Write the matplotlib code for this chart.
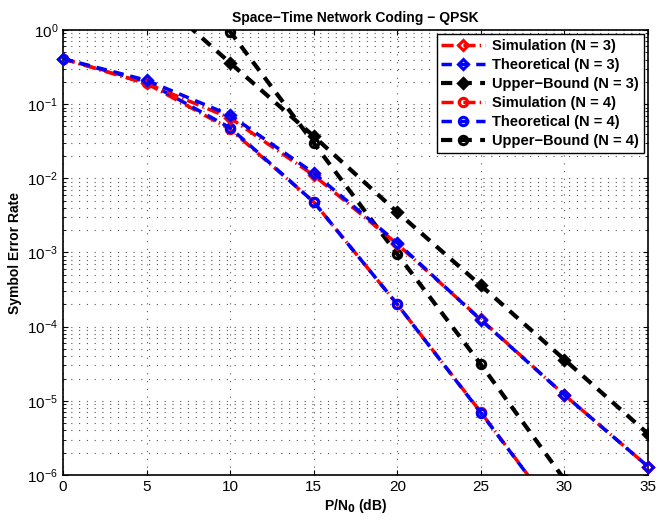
import numpy as np
import matplotlib
matplotlib.use("Agg")
import matplotlib.pyplot as plt

plt.rcParams['font.family'] = ['Liberation Sans', 'DejaVu Sans']

snr = [0, 5, 10, 15, 20, 25, 30, 35]

sim_n3 = [0.41, 0.19, 0.065, 0.011, 1.3e-3, 1.25e-4, 1.2e-5, 1.3e-6]
theo_n3 = [0.41, 0.21, 0.071, 0.0118, 1.35e-3, 1.23e-4, 1.2e-5, 1.3e-6]
ub_n3 = [36, 3.6, 0.36, 0.037, 3.5e-3, 3.6e-4, 3.6e-5, 3.6e-6]

snr4 = [0, 5, 10, 15, 20, 25, 30]
sim_n4 = [0.41, 0.19, 0.046, 0.0048, 2.0e-4, 7.0e-6, 2.2e-7]
theo_n4 = [0.41, 0.20, 0.048, 0.0048, 2.0e-4, 6.9e-6, 2.2e-7]
ub_n4 = [30, 30, 0.95, 0.030, 9.5e-4, 3.1e-5, 8.7e-7]

labels = ['Simulation (N = 3)', 'Theoretical (N = 3)', 'Upper\u2212Bound (N = 3)',
          'Simulation (N = 4)', 'Theoretical (N = 4)', 'Upper\u2212Bound (N = 4)']

fig = plt.figure(figsize=(6.58, 5.21), dpi=100)
ax = fig.add_axes([63/658, 1-475/521, (648-63)/658, (475-30)/521])

ms = 6
mew = 2.2
dd = (3, 2)
dash_dot = (3.5, 1.2, 0.4, 1.2)
bd = (2.7, 2)
l0, = ax.semilogy(snr, sim_n3, color='red', lw=2.5, marker='D', ms=5.5, mfc='none', mew=mew, label=labels[0], dashes=dash_dot, clip_on=False, zorder=3)
l1, = ax.semilogy(snr, theo_n3, color='blue', lw=2.5, marker='D', ms=5.5, mfc='none', mew=mew, label=labels[1], dashes=dd, clip_on=False, zorder=3)
l2, = ax.semilogy(snr, ub_n3, color='black', lw=3, marker='D', ms=5.5, mfc='black', mew=mew, label=labels[2], dashes=bd)
l5, = ax.semilogy(snr4[1:], ub_n4[1:], color='black', lw=3, marker='o', ms=ms, mfc='none', mew=mew, label=labels[5], dashes=bd)
l3, = ax.semilogy(snr4, sim_n4, color='red', lw=2.5, marker='o', ms=ms, mfc='none', mew=mew, label=labels[3], dashes=dash_dot)
l4, = ax.semilogy(snr4, theo_n4, color='blue', lw=2.5, marker='o', ms=ms, mfc='none', mew=mew, label=labels[4], dashes=dd)

ax.set_xlim(0, 35)
ax.set_ylim(1e-6, 1)
ax.set_xticks(range(0, 36, 5))
ax.minorticks_off()
ax.set_yticks([10.0**k for k in range(-6, 1)])
ax.set_yticks([m * 10.0**k for k in range(-6, 0) for m in range(2, 10)], minor=True)
ax.grid(True, which='major', color='#555555', lw=0.8, dashes=(1, 6))
ax.grid(True, which='minor', axis='y', color='#555555', lw=0.8, dashes=(1, 6))
ax.tick_params(which='both', direction='in', top=True, right=True, labelsize=11)
ax.tick_params(which='minor', length=2)
for s in ax.spines.values():
    s.set_linewidth(1.2)

ax.set_title('Space\u2212Time Network Coding \u2212 QPSK', fontsize=10, fontweight='bold')
ax.set_xlabel('P/N$_\\mathbf{0}$ (dB)', fontsize=10, fontweight='bold', labelpad=2)
ax.set_ylabel('Symbol Error Rate', fontsize=10, fontweight='bold')

leg = ax.legend([l0, l1, l2, l3, l4, l5], labels, loc='upper right', prop={'weight': 'bold', 'size': 10.5},
                fancybox=False, edgecolor='black', framealpha=1, handlelength=3, borderpad=0.3,
                labelspacing=0.35, borderaxespad=0.3, handletextpad=0.5)
leg.get_frame().set_linewidth(1.0)
leg.set_zorder(5)

fig.savefig('out.png', dpi=100)
